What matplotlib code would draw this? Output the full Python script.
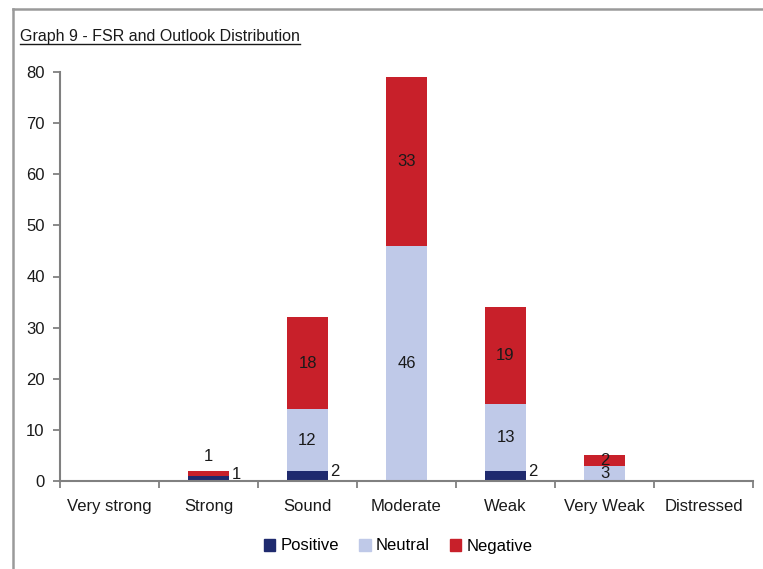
import matplotlib
matplotlib.use("Agg")
import matplotlib.pyplot as plt
from matplotlib.lines import Line2D
from matplotlib.patches import Patch
import numpy as np

plt.rcParams['font.family'] = ['Liberation Sans', 'DejaVu Sans']

categories = ["Very strong", "Strong", "Sound", "Moderate", "Weak", "Very Weak", "Distressed"]
positive = [0, 1, 2, 0, 2, 0, 0]
neutral = [0, 0, 12, 46, 13, 3, 0]
negative = [0, 1, 18, 33, 19, 2, 0]
series_names = ["Positive", "Neutral", "Negative"]
colors = ["#1F2A6E", "#BFC9E8", "#C8202A"]
yticks = [0, 10, 20, 30, 40, 50, 60, 70, 80]
title = "Graph 9 - FSR and Outlook Distribution"

fig = plt.figure(figsize=(7.63, 5.69), dpi=100)
ax = fig.add_axes([60/763, 88/569, 693/763, 409/569])

x = np.arange(len(categories))
w = 0.41
pos = np.array(positive); neu = np.array(neutral); neg = np.array(negative)
ax.bar(x, pos, w, color=colors[0], label=series_names[0])
ax.bar(x, neu, w, bottom=pos, color=colors[1], label=series_names[1])
ax.bar(x, neg, w, bottom=pos + neu, color=colors[2], label=series_names[2])

fs = 12
tc = "#1a1a1a"
for i in range(len(categories)):
    p, n, g = pos[i], neu[i], neg[i]
    small = (p + n + g) < 6 and n == 0
    if p > 0:
        ax.annotate(str(p), (x[i] + w/2, p/2), xytext=(2, 3), textcoords="offset points",
                    ha="left", va="center", fontsize=fs, color=tc)
    if n > 0:
        ax.text(x[i], p + n/2, str(n), ha="center", va="center", fontsize=fs, color=tc)
    if g > 0:
        if small:
            ax.annotate(str(g), (x[i], p + n + g), xytext=(0, 10), textcoords="offset points",
                        ha="center", va="center", fontsize=fs, color=tc)
        else:
            ax.text(x[i], p + n + g/2, str(g), ha="center", va="center", fontsize=fs, color=tc)

ax.set_xlim(-0.5, len(categories) - 0.5)
ax.set_ylim(0, 80)
ax.set_yticks(yticks)
ax.set_xticks(x)
ax.set_xticklabels(categories, fontsize=fs, color=tc)
ax.set_xticks(np.arange(-0.5, len(categories)), minor=True)
ax.tick_params(axis="x", which="major", length=0, pad=13)
ax.tick_params(axis="x", which="minor", length=5, width=1.3, color="#808080", direction="out")
ax.tick_params(axis="y", length=5, width=1.3, color="#808080", direction="out", labelsize=fs,
               labelcolor=tc, pad=6)
for s in ["top", "right"]:
    ax.spines[s].set_visible(False)
for s in ["left", "bottom"]:
    ax.spines[s].set_color("#808080")
    ax.spines[s].set_linewidth(1.5)

handles = [Patch(color=c) for c in colors]
fig.legend(handles, series_names, loc="center", bbox_to_anchor=(398/763, 1 - 546/569),
           ncol=3, frameon=False, fontsize=fs, handlelength=0.7, handleheight=0.7,
           handletextpad=0.3, columnspacing=1.2)

# figure border (left and top)
fig.add_artist(Line2D([13/763, 13/763], [0, 1 - 9/569], color="#9a9a9a", lw=1.8,
                      transform=fig.transFigure))
fig.add_artist(Line2D([13/763, 1], [1 - 9/569, 1 - 9/569], color="#9a9a9a", lw=1.8,
                      transform=fig.transFigure))

t = fig.text(20/763, 1 - 41/569, title, fontsize=11.5, color=tc, ha="left", va="baseline")
fig.canvas.draw()
bb = t.get_window_extent(renderer=fig.canvas.get_renderer())
fig.add_artist(Line2D([bb.x0 / fig.bbox.width, bb.x1 / fig.bbox.width], [1 - 44/569, 1 - 44/569],
                      color=tc, lw=1.0, transform=fig.transFigure))

fig.savefig("out.png", dpi=100, facecolor="white")
